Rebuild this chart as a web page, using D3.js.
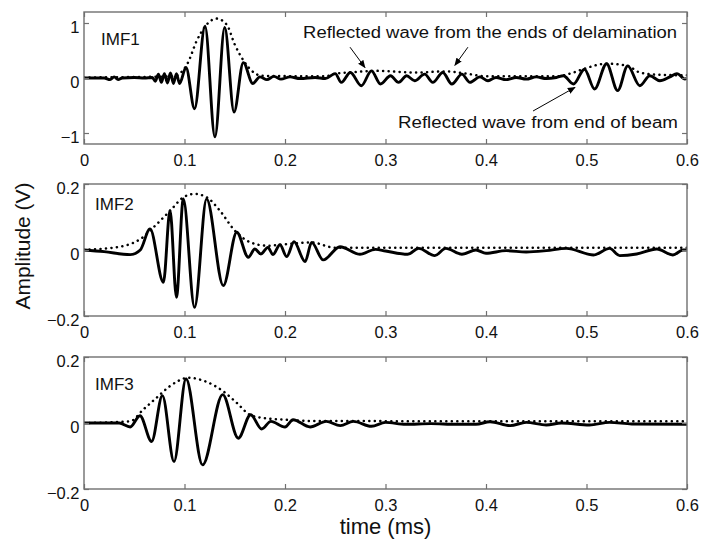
<!DOCTYPE html>
<html>
<head>
<meta charset="utf-8">
<script src="https://cdn.jsdelivr.net/npm/d3@7/dist/d3.min.js"></script>
<style>
  body { margin: 0; background: #fff; }
  svg { display: block; font-family: "Liberation Sans", Arial, Helvetica, sans-serif; }
</style>
</head>
<body>
<div id="chart"></div>
<script>
// time axis (ms)
const timeDomain = [0, 0.6];
const timeTicks = [0, 0.1, 0.2, 0.3, 0.4, 0.5, 0.6];

const panelNames = ['IMF1', 'IMF2', 'IMF3'];
const ampDomains = [[-1.2, 1.2], [-0.2, 0.2], [-0.2, 0.2]];
const ampTicks = [[-1, 0, 1], [-0.2, 0, 0.2], [-0.2, 0, 0.2]];

// IMF1 signal, read at the extrema
const imf1Time = [0, 0.02, 0.026, 0.030, 0.034, 0.038, 0.05, 0.06, 0.068, 0.071, 0.074, 0.077, 0.080, 0.083,
  0.086, 0.089, 0.092, 0.095, 0.1015, 0.110, 0.1204, 0.1303, 0.140, 0.1493, 0.1585, 0.168, 0.175, 0.182,
  0.189, 0.196, 0.205, 0.215, 0.23, 0.24, 0.25, 0.256, 0.265, 0.276, 0.286, 0.295, 0.305, 0.313, 0.321,
  0.329, 0.339, 0.347, 0.357, 0.366, 0.376, 0.384, 0.394, 0.402, 0.41, 0.42, 0.43, 0.44, 0.45, 0.46, 0.47,
  0.477, 0.487, 0.498, 0.508, 0.520, 0.531, 0.541, 0.553, 0.563, 0.573, 0.583, 0.590, 0.598, 0.6];
const imf1Amp = [0, 0, -0.03, 0.02, -0.03, 0, 0.01, 0, 0.01, -0.06, 0.07, -0.08, 0.08, -0.09,
  0.09, -0.1, 0.08, -0.1, 0.19, -0.56, 0.94, -1.07, 0.92, -0.62, 0.28, -0.1, 0.02, -0.03,
  0.03, -0.02, 0.02, -0.01, 0.01, -0.01, 0.08, -0.08, 0.10, -0.14, 0.13, -0.11, 0.04, -0.08, 0.04,
  -0.05, 0.07, -0.08, 0.10, -0.11, 0.07, -0.08, 0.02, -0.05, 0.01, -0.03, 0.01, -0.02, 0.02, -0.01, 0.01,
  0.04, -0.11, 0.16, -0.2, 0.26, -0.23, 0.22, -0.14, 0.04, -0.05, 0.02, 0.08, -0.02, 0];
const env1Time = [0, 0.09, 0.0965, 0.1035, 0.112, 0.122, 0.132, 0.142, 0.150, 0.159, 0.169, 0.177, 0.24,
  0.25, 0.265, 0.29, 0.33, 0.36, 0.38, 0.40, 0.47, 0.487, 0.498, 0.520, 0.541, 0.553, 0.57, 0.6];
const env1Amp = [0.01, 0.03, 0.1, 0.28, 0.67, 0.97, 1.08, 0.97, 0.61, 0.31, 0.1, 0.04, 0.03,
  0.08, 0.1, 0.13, 0.1, 0.12, 0.08, 0.03, 0.03, 0.1, 0.17, 0.26, 0.22, 0.1, 0.06, 0.05];

// IMF2
const imf2Time = [0, 0.02, 0.046, 0.056, 0.0657, 0.079, 0.0856, 0.092, 0.0988, 0.110, 0.122, 0.1386,
  0.152, 0.1635, 0.170, 0.176, 0.183, 0.188, 0.195, 0.2017, 0.209, 0.22, 0.2265, 0.238, 0.2547, 0.2746,
  0.29, 0.3, 0.322, 0.333, 0.349, 0.36, 0.376, 0.39, 0.4, 0.42, 0.44, 0.46, 0.48, 0.507, 0.523, 0.533,
  0.55, 0.57, 0.586, 0.596, 0.6];
const imf2Amp = [0, -0.005, -0.014, 0, 0.064, -0.098, 0.12, -0.143, 0.155, -0.174, 0.155, -0.108,
  0.054, -0.022, 0.003, -0.012, 0.008, -0.014, 0.016, -0.02, 0.025, -0.035, 0.023, -0.03, 0.01, -0.013,
  0.002, -0.003, -0.013, 0.005, -0.017, 0.005, -0.013, 0, -0.01, -0.002, -0.006, -0.002, 0.005, -0.015, 0.005, -0.017,
  -0.012, 0.003, -0.015, 0, 0];
const env2Time = [0, 0.0295, 0.056, 0.0726, 0.086, 0.099, 0.11, 0.122, 0.135, 0.15, 0.165, 0.182,
  0.21, 0.226, 0.25, 0.6];
const env2Amp = [0.001, 0.007, 0.033, 0.079, 0.12, 0.16, 0.17, 0.16, 0.12, 0.059, 0.024, 0.013,
  0.02, 0.023, 0.007, 0.007];

// IMF3
const imf3Time = [0, 0.035, 0.046, 0.0557, 0.0673, 0.078, 0.0896, 0.1015, 0.118, 0.138, 0.1535, 0.1658,
  0.1768, 0.186, 0.2, 0.208, 0.225, 0.241, 0.255, 0.268, 0.286, 0.3, 0.32, 0.345, 0.37, 0.39, 0.404,
  0.424, 0.44, 0.46, 0.475, 0.503, 0.523, 0.545, 0.6];
const imf3Amp = [0, 0, -0.012, 0.022, -0.056, 0.083, -0.117, 0.134, -0.127, 0.086, -0.046, 0.025,
  -0.018, 0.005, -0.012, 0.01, -0.012, 0.005, -0.008, 0.005, -0.01, 0.002, -0.004, -0.002, -0.004, -0.004, 0.004,
  -0.008, 0.002, -0.006, 0, -0.006, 0.002, -0.003, -0.004];
const env3Time = [0, 0.046, 0.0587, 0.072, 0.0856, 0.104, 0.12, 0.1386, 0.152, 0.165, 0.179, 0.2, 0.23, 0.6];
const env3Amp = [0, 0.005, 0.04, 0.076, 0.112, 0.137, 0.127, 0.096, 0.061, 0.025, 0.015, 0.01, 0.006, 0.005];

// annotations on IMF1, in data units
const noteTexts = ['Reflected wave from the ends of delamination', 'Reflected wave from end of beam'];
const noteAt = [[0.218, 0.72], [0.3124, -0.91]];
const arrowFrom = [[0.2647, 0.56], [0.382, 0.56], [0.4468, -0.6]];
const arrowTo = [[0.2796, 0.19], [0.369, 0.23], [0.4886, -0.17]];

const width = 702, height = 541;
const left = 84, right = 687;
const panelTop = [12, 184, 357];
const panelHeight = 132;
const frameColor = '#707070';
const textColor = '#111';

const svg = d3.select('#chart').append('svg')
  .attr('width', width)
  .attr('height', height);

const defs = svg.append('defs');
defs.append('marker')
  .attr('id', 'arrowhead')
  .attr('viewBox', '0 0 10 10')
  .attr('refX', 9).attr('refY', 5)
  .attr('markerWidth', 8).attr('markerHeight', 8)
  .attr('markerUnits', 'userSpaceOnUse')
  .attr('orient', 'auto')
  .append('path')
  .attr('d', 'M0,1 L10,5 L0,9 z')
  .attr('fill', '#000');

const x = d3.scaleLinear().domain(timeDomain).range([left, right]);

const signals = [
  { t: imf1Time, v: imf1Amp, et: env1Time, ev: env1Amp },
  { t: imf2Time, v: imf2Amp, et: env2Time, ev: env2Amp },
  { t: imf3Time, v: imf3Amp, et: env3Time, ev: env3Amp }
];

const fmt = d => d === 0 ? '0' : (d < 0 ? '\u2212' : '') + Math.abs(d);

signals.forEach((s, i) => {
  const g = svg.append('g').attr('transform', `translate(0, ${panelTop[i]})`);
  const y = d3.scaleLinear().domain(ampDomains[i]).range([panelHeight, 0]);

  defs.append('clipPath').attr('id', 'clip' + i)
    .append('rect')
    .attr('x', left).attr('y', 0)
    .attr('width', right - left).attr('height', panelHeight);

  const line = d3.line()
    .x(d => x(d[0]))
    .y(d => y(d[1]))
    .curve(d3.curveMonotoneX);

  const plot = g.append('g').attr('clip-path', `url(#clip${i})`);

  plot.append('path')
    .datum(d3.zip(s.t, s.v))
    .attr('d', line)
    .attr('fill', 'none')
    .attr('stroke', '#000')
    .attr('stroke-width', 2.9)
    .attr('stroke-linejoin', 'round');

  plot.append('path')
    .datum(d3.zip(s.et, s.ev))
    .attr('d', line)
    .attr('fill', 'none')
    .attr('stroke', '#000')
    .attr('stroke-width', 2.5)
    .attr('stroke-linecap', 'round')
    .attr('stroke-dasharray', '0.1 5.4');

  // axes, ticks pointing inward like matlab
  const bottom = g.append('g')
    .attr('transform', `translate(0, ${panelHeight})`)
    .call(d3.axisBottom(x).tickValues(timeTicks).tickFormat(d => d === 0 ? '0' : d3.format('.1f')(d))
      .tickSizeInner(-5).tickSizeOuter(0).tickPadding(10));
  const top = g.append('g')
    .call(d3.axisTop(x).tickValues(timeTicks).tickFormat('').tickSizeInner(-5).tickSizeOuter(0));
  const leftAx = g.append('g')
    .attr('transform', `translate(${left}, 0)`)
    .call(d3.axisLeft(y).tickValues(ampTicks[i]).tickFormat(fmt)
      .tickSizeInner(-5).tickSizeOuter(0).tickPadding(4.5));
  const rightAx = g.append('g')
    .attr('transform', `translate(${right}, 0)`)
    .call(d3.axisRight(y).tickValues(ampTicks[i]).tickFormat('').tickSizeInner(-5).tickSizeOuter(0));

  [bottom, top, leftAx, rightAx].forEach(a => {
    a.select('.domain').remove();
    a.selectAll('line').attr('stroke', frameColor).attr('stroke-width', 1.2);
    a.selectAll('text')
      .attr('fill', textColor)
      .attr('font-size', '16.5px')
      .attr('font-family', '"Liberation Sans", Arial, Helvetica, sans-serif');
  });
  leftAx.selectAll('text').attr('dy', '0.55em');

  g.append('rect')
    .attr('x', left).attr('y', 0)
    .attr('width', right - left).attr('height', panelHeight)
    .attr('fill', 'none')
    .attr('stroke', frameColor)
    .attr('stroke-width', 1.4);

  g.append('text')
    .attr('x', i === 0 ? 101 : 95)
    .attr('y', i === 1 ? 26 : 33)
    .attr('font-size', '17px')
    .attr('fill', textColor)
    .text(panelNames[i]);

  if (i === 0) {
    noteTexts.forEach((txt, k) => {
      g.append('text')
        .attr('x', x(noteAt[k][0]))
        .attr('y', y(noteAt[k][1]))
        .attr('font-size', '16px')
        .attr('fill', textColor)
        .attr('textLength', k === 0 ? 374 : 280)
        .attr('lengthAdjust', 'spacingAndGlyphs')
        .text(txt);
    });
    arrowFrom.forEach((a, k) => {
      g.append('line')
        .attr('x1', x(a[0])).attr('y1', y(a[1]))
        .attr('x2', x(arrowTo[k][0])).attr('y2', y(arrowTo[k][1]))
        .attr('stroke', '#000')
        .attr('stroke-width', 1)
        .attr('marker-end', 'url(#arrowhead)');
    });
  }
});

svg.append('text')
  .attr('transform', `translate(30, 246) rotate(-90)`)
  .attr('text-anchor', 'middle')
  .attr('font-size', '21px')
  .attr('fill', textColor)
  .text('Amplitude (V)');

svg.append('text')
  .attr('x', (left + right) / 2)
  .attr('y', 534)
  .attr('text-anchor', 'middle')
  .attr('font-size', '22px')
  .attr('fill', textColor)
  .text('time (ms)');
</script>
</body>
</html>
